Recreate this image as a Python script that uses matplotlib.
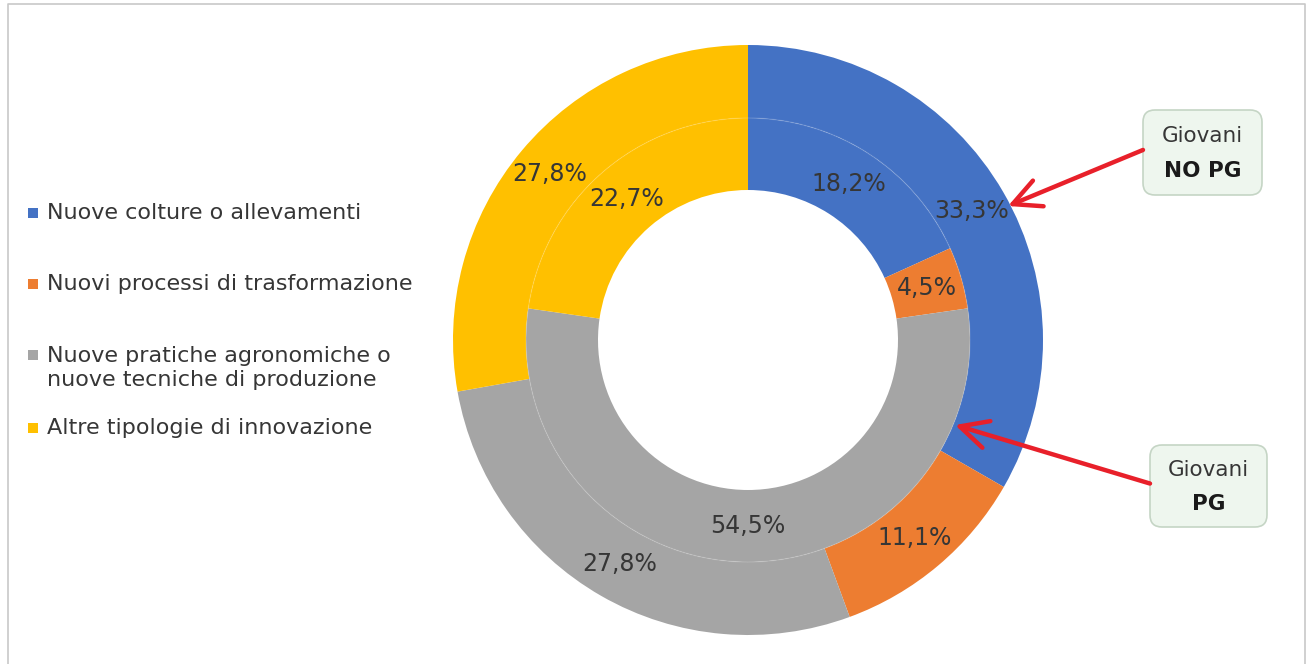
import matplotlib
matplotlib.use("Agg")
import matplotlib.pyplot as plt
from matplotlib.patches import Rectangle, FancyBboxPatch, Circle

W, H = 1309, 664

categories = [
    "Nuove colture o allevamenti",
    "Nuovi processi di trasformazione",
    "Nuove pratiche agronomiche o\nnuove tecniche di produzione",
    "Altre tipologie di innovazione",
]
no_pg = [33.3, 11.1, 27.8, 27.8]   # outer ring: Giovani NO PG
pg = [18.2, 4.5, 54.5, 22.7]       # inner ring: Giovani PG
colors = ["#4472C4", "#ED7D31", "#A5A5A5", "#FFC000"]

TXT = "#363636"
FONT = "DejaVu Sans"


def Y(y):
    return H - y


def fmt_factory(values):
    total = sum(values)

    def fmt(pct):
        v = pct * total / 100.0
        return f"{v:.1f}%".replace(".", ",")
    return fmt


fig = plt.figure(figsize=(W / 100, H / 100), dpi=100)
ax = fig.add_axes([0, 0, 1, 1])

cx, cy = 748, Y(340)
r_out, r_mid, r_hole = 295, 222, 150

ax.pie(no_pg, radius=r_out, center=(cx, cy), startangle=90, counterclock=False,
       colors=colors, wedgeprops=dict(width=r_out - r_mid, edgecolor="none"),
       autopct=fmt_factory(no_pg), pctdistance=(r_out + r_mid) / 2 / r_out,
       textprops=dict(color=TXT, fontsize=17, family=FONT))
ax.pie(pg, radius=r_mid, center=(cx, cy), startangle=90, counterclock=False,
       colors=colors, wedgeprops=dict(width=r_mid - r_hole, edgecolor="none"),
       autopct=fmt_factory(pg), pctdistance=(r_mid + r_hole) / 2 / r_mid,
       textprops=dict(color=TXT, fontsize=17, family=FONT))
ax.add_patch(Circle((cx, cy), r_mid, fill=False, ec="white", lw=1, alpha=0.12))

# legend
leg_y = [213, 284, 368, 428]
for name, col, y in zip(categories, colors, leg_y):
    sq_y = y if "\n" not in name else 355
    ax.add_patch(Rectangle((28, Y(sq_y) - 5), 10, 10, color=col, lw=0))
    ax.text(47, Y(y), name, ha="left", va="center", fontsize=16,
            color=TXT, family=FONT, linespacing=1.2)

# callouts
def callout(x0, x1, y0, y1, bold, tip):
    ax.add_patch(FancyBboxPatch((x0, Y(y1)), x1 - x0, y1 - y0,
                                boxstyle="round,pad=0,rounding_size=12",
                                fc="#EEF6EE", ec="#C5D5C5", lw=1.2))
    xc = (x0 + x1) / 2
    h = y1 - y0
    ax.text(xc, Y(y0 + h * 0.31), "Giovani", ha="center", va="center",
            fontsize=15.5, color=TXT, family=FONT)
    ax.text(xc, Y(y0 + h * 0.72), bold, ha="center", va="center",
            fontsize=15.5, color="#1a1a1a", family=FONT, fontweight="bold")
    ax.annotate("", xy=tip, xytext=(x0, Y(y0 + h * 0.47)),
                arrowprops=dict(arrowstyle="->,head_length=1.0,head_width=0.5",
                                color="#E8202A", lw=3.2, shrinkA=0, shrinkB=0,
                                mutation_scale=20))

callout(1143, 1262, 110, 195, "NO PG", (1008, Y(206)))
callout(1150, 1267, 445, 527, "PG", (955, Y(425)))

# frame
ax.plot([8, 8, 1305, 1305], [Y(H + 5), Y(4), Y(4), Y(H + 5)],
        color="#C8C8C8", lw=1.2, clip_on=False)

ax.set_xlim(0, W)
ax.set_ylim(0, H)
ax.set_aspect("equal")
ax.axis("off")

fig.savefig("out.png", dpi=100, facecolor="white")
